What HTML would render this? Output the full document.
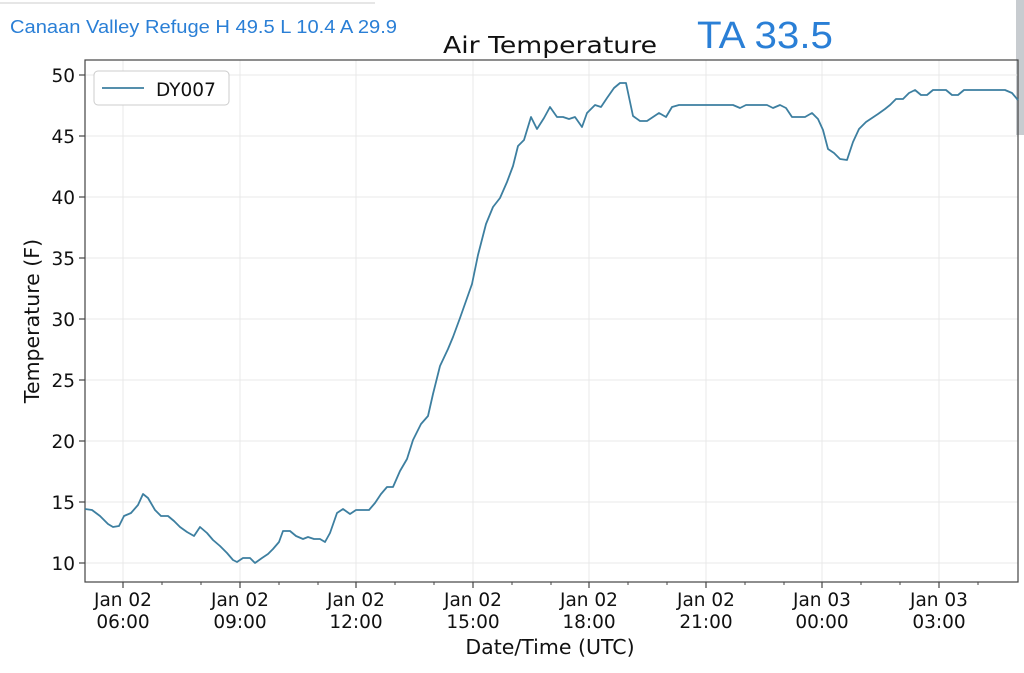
<!DOCTYPE html>
<html><head><meta charset="utf-8"><style>body{margin:0;background:#fff;width:1024px;height:668px;overflow:hidden}</style></head>
<body>
<svg width="1024" height="668" xmlns="http://www.w3.org/2000/svg" font-family="DejaVu Sans, Liberation Sans, sans-serif">
<line x1="0" y1="3" x2="375" y2="3" stroke="#e6e6e6" stroke-width="2"/>
<rect x="1016" y="0" width="8" height="135" fill="#c8ccd0"/>
<text x="10" y="33" font-size="18" fill="#2a7fd6" font-family="Liberation Sans, sans-serif" textLength="387" lengthAdjust="spacingAndGlyphs">Canaan Valley Refuge H 49.5 L 10.4 A 29.9</text>
<text x="443" y="53" font-size="23" fill="#111" textLength="214" lengthAdjust="spacingAndGlyphs">Air Temperature</text>
<text x="697" y="48" font-size="38" fill="#2a7fd6" font-family="Liberation Sans, sans-serif" textLength="136" lengthAdjust="spacingAndGlyphs">TA 33.5</text>
<g stroke="#e8e8e8" stroke-width="1">
<line x1="85" y1="75" x2="1018" y2="75"/><line x1="85" y1="136" x2="1018" y2="136"/><line x1="85" y1="197" x2="1018" y2="197"/><line x1="85" y1="258" x2="1018" y2="258"/><line x1="85" y1="319" x2="1018" y2="319"/><line x1="85" y1="380" x2="1018" y2="380"/><line x1="85" y1="441" x2="1018" y2="441"/><line x1="85" y1="502" x2="1018" y2="502"/><line x1="85" y1="563" x2="1018" y2="563"/>
<line x1="123" y1="60" x2="123" y2="582"/><line x1="240" y1="60" x2="240" y2="582"/><line x1="356" y1="60" x2="356" y2="582"/><line x1="473" y1="60" x2="473" y2="582"/><line x1="589" y1="60" x2="589" y2="582"/><line x1="706" y1="60" x2="706" y2="582"/><line x1="822" y1="60" x2="822" y2="582"/><line x1="939" y1="60" x2="939" y2="582"/>
</g>
<rect x="85" y="60" width="933" height="522" fill="none" stroke="#444" stroke-width="1.2"/>
<g stroke="#444" stroke-width="1.2">
<line x1="79" y1="75" x2="85" y2="75"/><line x1="79" y1="136" x2="85" y2="136"/><line x1="79" y1="197" x2="85" y2="197"/><line x1="79" y1="258" x2="85" y2="258"/><line x1="79" y1="319" x2="85" y2="319"/><line x1="79" y1="380" x2="85" y2="380"/><line x1="79" y1="441" x2="85" y2="441"/><line x1="79" y1="502" x2="85" y2="502"/><line x1="79" y1="563" x2="85" y2="563"/>
<line x1="123" y1="582" x2="123" y2="588"/><line x1="240" y1="582" x2="240" y2="588"/><line x1="356" y1="582" x2="356" y2="588"/><line x1="473" y1="582" x2="473" y2="588"/><line x1="589" y1="582" x2="589" y2="588"/><line x1="706" y1="582" x2="706" y2="588"/><line x1="822" y1="582" x2="822" y2="588"/><line x1="939" y1="582" x2="939" y2="588"/>
</g>
<g stroke="#444" stroke-width="1">
<line x1="162" y1="582" x2="162" y2="585"/><line x1="201" y1="582" x2="201" y2="585"/><line x1="279" y1="582" x2="279" y2="585"/><line x1="318" y1="582" x2="318" y2="585"/><line x1="395" y1="582" x2="395" y2="585"/><line x1="434" y1="582" x2="434" y2="585"/><line x1="512" y1="582" x2="512" y2="585"/><line x1="551" y1="582" x2="551" y2="585"/><line x1="628" y1="582" x2="628" y2="585"/><line x1="667" y1="582" x2="667" y2="585"/><line x1="745" y1="582" x2="745" y2="585"/><line x1="784" y1="582" x2="784" y2="585"/><line x1="861" y1="582" x2="861" y2="585"/><line x1="900" y1="582" x2="900" y2="585"/><line x1="978" y1="582" x2="978" y2="585"/>
</g>
<g font-size="18.5" fill="#111" text-anchor="end">
<text x="75" y="82">50</text><text x="75" y="143">45</text><text x="75" y="204">40</text><text x="75" y="265">35</text><text x="75" y="326">30</text><text x="75" y="387">25</text><text x="75" y="448">20</text><text x="75" y="509">15</text><text x="75" y="570">10</text>
</g>
<g font-size="18.5" fill="#111" text-anchor="middle">
<text x="123" y="606">Jan 02</text><text x="123" y="628">06:00</text>
<text x="240" y="606">Jan 02</text><text x="240" y="628">09:00</text>
<text x="356" y="606">Jan 02</text><text x="356" y="628">12:00</text>
<text x="473" y="606">Jan 02</text><text x="473" y="628">15:00</text>
<text x="589" y="606">Jan 02</text><text x="589" y="628">18:00</text>
<text x="706" y="606">Jan 02</text><text x="706" y="628">21:00</text>
<text x="822" y="606">Jan 03</text><text x="822" y="628">00:00</text>
<text x="939" y="606">Jan 03</text><text x="939" y="628">03:00</text>
</g>
<text x="550" y="654" font-size="20.5" text-anchor="middle" fill="#111">Date/Time (UTC)</text>
<text transform="translate(39,321) rotate(-90)" font-size="20.5" text-anchor="middle" fill="#111">Temperature (F)</text>
<polyline fill="none" stroke="#3d7fa0" stroke-width="1.8" stroke-linejoin="round" points="85,509 92,510 100,516 108,524 113,527 119,526 124,516 131,513 138,505 143,494 148,498 155,510 161,516 168,516 174,521 180,527 187,532 194,536 200,527 207,533 213,540 220,546 227,553 233,560 237,562 243,558 250,558 255,563 262,558 268,554 273,549 279,542 283,531 290,531 296,536 303,539 308,537 314,539 320,539 325,542 330,533 337,513 343,509 350,514 356,510 363,510 369,510 375,503 381,494 387,487 393,487 400,471 407,459 413,440 421,424 428,416 433,394 440,366 448,349 453,337 460,318 466,301 472,284 478,255 486,224 493,207 500,198 507,182 513,166 518,146 524,140 531,117 537,129 544,118 550,107 557,117 563,117 569,119 575,117 582,127 587,113 595,105 601,107 607,98 614,88 620,83 626,83 633,116 640,121 647,121 653,117 659,113 666,117 672,107 679,105 733,105 740,108 746,105 767,105 773,108 780,105 786,108 792,117 799,117 805,117 812,113 818,119 823,130 828,149 834,153 840,159 847,160 853,142 859,129 866,122 872,118 878,114 885,109 890,105 896,99 903,99 909,93 915,90 921,95 927,95 933,90 946,90 952,95 958,95 964,90 1005,90 1012,93 1018,100"/>
<rect x="94" y="71" width="135" height="34" rx="4" fill="#fff" stroke="#ccc"/>
<line x1="102" y1="88" x2="144" y2="88" stroke="#3d7fa0" stroke-width="1.8"/>
<text x="156" y="96" font-size="18.5" fill="#111">DY007</text>
</svg>
</body></html>
